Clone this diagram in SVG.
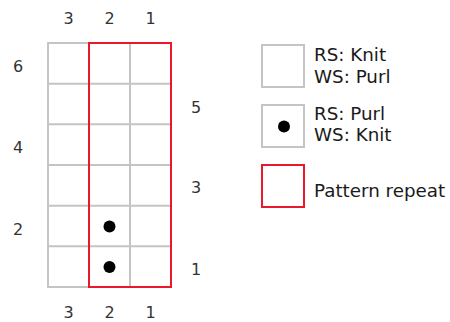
<svg xmlns="http://www.w3.org/2000/svg" width="450" height="322" viewBox="0 0 450 322">
<style>
.num{font-family:"DejaVu Sans",Verdana,sans-serif;font-size:16px;fill:#333;text-anchor:middle}
.lbl{font-family:"DejaVu Sans",Verdana,sans-serif;font-size:18.3px;fill:#1a1a1a}
.cell{fill:#fff;stroke:#c4c4c4;stroke-width:2}
.rep{fill:none;stroke:#e8192c;stroke-width:2}
.dot{fill:#000}
</style>
<rect width="450" height="322" fill="#fff"/>
<g id="chart">
<g id="grid" stroke="#c4c4c4" stroke-width="2" fill="none">
<rect x="48" y="43" width="123" height="244" fill="#fff"/>
<line x1="89" y1="43" x2="89" y2="287"/>
<line x1="130" y1="43" x2="130" y2="287"/>
<line x1="48" y1="83.7" x2="171" y2="83.7"/>
<line x1="48" y1="124.3" x2="171" y2="124.3"/>
<line x1="48" y1="165" x2="171" y2="165"/>
<line x1="48" y1="205.7" x2="171" y2="205.7"/>
<line x1="48" y1="246.3" x2="171" y2="246.3"/>
</g>
<g id="stitches">
<circle class="dot" cx="109.5" cy="226.5" r="6"/>
<circle class="dot" cx="109.5" cy="267" r="6"/>
</g>
<g id="repeat">
<rect class="rep" x="89" y="43" width="82" height="244"/>
</g>
<g id="col-top">
<text class="num" x="68.5" y="24">3</text>
<text class="num" x="109.5" y="24">2</text>
<text class="num" x="150.5" y="24">1</text>
</g>
<g id="col-bottom">
<text class="num" x="68.5" y="318">3</text>
<text class="num" x="109.5" y="318">2</text>
<text class="num" x="150.5" y="318">1</text>
</g>
<g id="rows-left">
<text class="num" x="18" y="72">6</text>
<text class="num" x="18" y="153">4</text>
<text class="num" x="18" y="235">2</text>
</g>
<g id="rows-right">
<text class="num" x="196" y="113">5</text>
<text class="num" x="196" y="193">3</text>
<text class="num" x="196" y="275">1</text>
</g>
</g>
<g id="legend-knit">
<rect class="cell" x="262" y="45" width="42" height="42"/>
<text class="lbl" x="314" y="61">RS: Knit</text>
<text class="lbl" x="314" y="83">WS: Purl</text>
</g>
<g id="legend-purl">
<rect class="cell" x="262" y="105" width="42" height="42"/>
<circle class="dot" cx="284" cy="126.5" r="6"/>
<text class="lbl" x="314" y="120">RS: Purl</text>
<text class="lbl" x="314" y="141">WS: Knit</text>
</g>
<g id="legend-repeat">
<rect class="rep" x="262" y="165" width="42" height="42"/>
<text class="lbl" x="314" y="197">Pattern repeat</text>
</g>
</svg>
